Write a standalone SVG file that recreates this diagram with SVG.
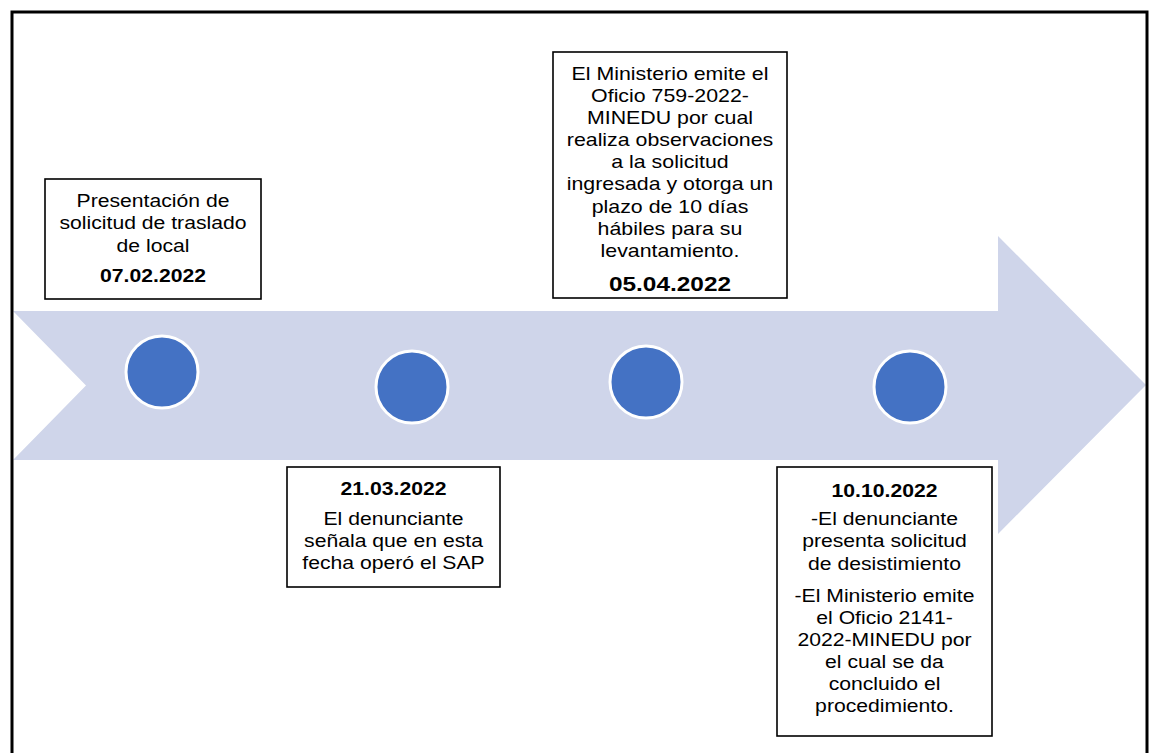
<svg xmlns="http://www.w3.org/2000/svg" width="1149" height="753" viewBox="0 0 1149 753">
<style>
.box{fill:#fff;stroke:#000;stroke-width:1.6}
.t{font-family:"Liberation Sans",Arial,sans-serif;font-size:17.5px;fill:#000;text-anchor:middle}
.d{font-family:"Liberation Sans",Arial,sans-serif;font-size:17.5px;font-weight:bold;fill:#000;text-anchor:middle}
.dl{font-size:20px}
.dot{fill:#4472C4;stroke:#fff;stroke-width:3}
</style>
<rect width="1149" height="753" fill="#fff"/>
<g id="timeline-arrow">
<polygon points="13,311 998,311 998,236 1146,385 998,534 998,460 13,460 86,385.5" fill="#CFD5EA"/>
</g>
<g id="connectors"></g>
<g id="dot1"><circle class="dot" cx="162" cy="372" r="36"/></g>
<g id="dot2"><circle class="dot" cx="412" cy="387" r="36"/></g>
<g id="dot3"><circle class="dot" cx="646" cy="382" r="36"/></g>
<g id="dot4"><circle class="dot" cx="910" cy="387" r="36"/></g>
<g id="box1">
<rect class="box" x="45" y="179" width="216" height="120"/>
<g transform="translate(153,0) scale(1.21,1)">
<text class="t" x="0" y="207">Presentación de</text>
<text class="t" x="0" y="229.5">solicitud de traslado</text>
<text class="t" x="0" y="252">de local</text>
<text class="d" x="0" y="282">07.02.2022</text>
</g>
</g>
<g id="box2">
<rect class="box" x="553" y="52" width="234" height="246"/>
<g transform="translate(670,0) scale(1.22,1)">
<text class="t" x="0" y="80">El Ministerio emite el</text>
<text class="t" x="0" y="102.1">Oficio 759-2022-</text>
<text class="t" x="0" y="124.2">MINEDU por cual</text>
<text class="t" x="0" y="146.3">realiza observaciones</text>
<text class="t" x="0" y="168.4">a la solicitud</text>
<text class="t" x="0" y="190.5">ingresada y otorga un</text>
<text class="t" x="0" y="212.6">plazo de 10 días</text>
<text class="t" x="0" y="234.7">hábiles para su</text>
<text class="t" x="0" y="256.8">levantamiento.</text>
<text class="d dl" x="0" y="291">05.04.2022</text>
</g>
</g>
<g id="box3">
<rect class="box" x="287" y="467" width="213" height="120"/>
<g transform="translate(393.5,0) scale(1.21,1)">
<text class="d" x="0" y="495">21.03.2022</text>
<text class="t" x="0" y="525">El denunciante</text>
<text class="t" x="0" y="547">señala que en esta</text>
<text class="t" x="0" y="569">fecha operó el SAP</text>
</g>
</g>
<g id="box4">
<rect class="box" x="777" y="467" width="215" height="269"/>
<g transform="translate(884.5,0) scale(1.21,1)">
<text class="d" x="0" y="497">10.10.2022</text>
<text class="t" x="0" y="525">-El denunciante</text>
<text class="t" x="0" y="547.5">presenta solicitud</text>
<text class="t" x="0" y="570">de desistimiento</text>
<text class="t" x="0" y="602">-El Ministerio emite</text>
<text class="t" x="0" y="624">el Oficio 2141-</text>
<text class="t" x="0" y="646">2022-MINEDU por</text>
<text class="t" x="0" y="668">el cual se da</text>
<text class="t" x="0" y="690.5">concluido el</text>
<text class="t" x="0" y="712.5">procedimiento.</text>
</g>
</g>
<g id="frame">
<rect x="12" y="12" width="1135" height="760" fill="none" stroke="#000" stroke-width="3"/>
</g>
</svg>
